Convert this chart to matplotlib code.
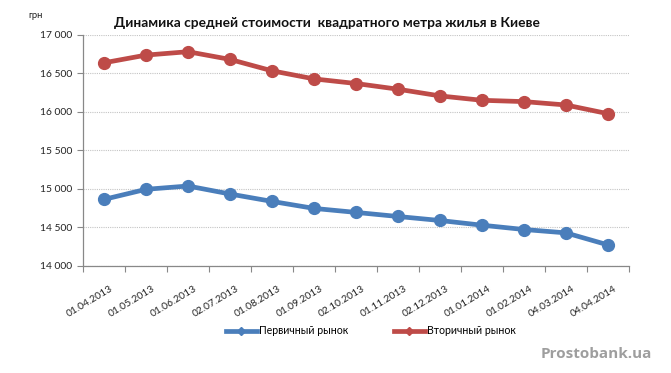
import matplotlib
matplotlib.use("Agg")
import matplotlib.pyplot as plt
from matplotlib.lines import Line2D

dates = ["01.04.2013", "01.05.2013", "01.06.2013", "02.07.2013", "01.08.2013",
         "01.09.2013", "02.10.2013", "01.11.2013", "02.12.2013", "01.01.2014",
         "01.02.2014", "04.03.2014", "04.04.2014"]
primary = [14865, 14996, 15039, 14935, 14839, 14748, 14696, 14643, 14591, 14530, 14474, 14430, 14274]
secondary = [16639, 16739, 16783, 16683, 16535, 16430, 16370, 16296, 16209, 16152, 16135, 16091, 15978]
yticks = [14000, 14500, 15000, 15500, 16000, 16500, 17000]
ytick_labels = ["14 000", "14 500", "15 000", "15 500", "16 000", "16 500", "17 000"]
series_names = ["Первичный рынок", "Вторичный рынок"]

plt.rcParams['font.family'] = ['Lato', 'DejaVu Sans']

W, H = 671, 373
fig = plt.figure(figsize=(W / 100, H / 100), dpi=100)
left, right, top, bottom = 83, 629, 35, 266
ax = fig.add_axes([left / W, 1 - bottom / H, (right - left) / W, (bottom - top) / H])

blue = "#4A7EBB"
red = "#BE4B48"
x = list(range(len(dates)))
ax.plot(x, primary, color=blue, lw=3.4, marker='o', ms=8.5, solid_capstyle='round', zorder=3)
ax.plot(x, secondary, color=red, lw=3.4, marker='o', ms=8.5, solid_capstyle='round', zorder=3)

ax.set_xlim(-0.5, len(dates) - 0.5)
ax.set_ylim(14000, 17000)
ax.set_yticks(yticks)
ax.set_yticklabels(ytick_labels, fontsize=7.4, color="#222222")
ax.yaxis.grid(True, linestyle=(0, (1, 1)), color="#C4C4C4", lw=0.8)
ax.set_axisbelow(True)

ax.set_xticks([i - 0.5 for i in range(len(dates) + 1)])
ax.set_xticklabels([])
ax.tick_params(axis='x', length=4, color="#888888", width=0.8)
ax.tick_params(axis='y', length=4, color="#888888", width=0.8, pad=4)
for i, d in enumerate(dates):
    ax.annotate(d, xy=(i, 14000), xycoords='data', xytext=(4, -13), textcoords='offset points',
                ha='right', va='top', rotation=31, rotation_mode='anchor',
                fontsize=7.4, color="#222222")

for s in ['top', 'right']:
    ax.spines[s].set_visible(False)
for s in ['left', 'bottom']:
    ax.spines[s].set_color("#888888")
    ax.spines[s].set_linewidth(0.9)

fig.text(327 / W, 1 - 23 / H, "Динамика средней стоимости  квадратного метра жилья в Киеве",
         ha='center', va='center', fontsize=9.9, fontweight='bold', color="#111111")
fig.text(28 / W, 1 - 16 / H, "грн", ha='left', va='center', fontsize=6.8, color="#222222")

colors = [blue, red]
leg_x = [226, 394]
for name, c, lx in zip(series_names, colors, leg_x):
    h = Line2D([], [], color=c, lw=3.4, marker='D', ms=4)
    leg = fig.legend([h], [name], loc='center left', bbox_to_anchor=(lx / W, 1 - 331 / H),
                     frameon=False, fontsize=7.6, handlelength=2.9, handletextpad=0.2,
                     borderpad=0, borderaxespad=0)

fig.text(652 / W, 1 - 354 / H, "Prostobank.ua", ha='right', va='center', fontsize=11,
         fontweight='bold', color="#9E9E9E", family=['Open Sans', 'DejaVu Sans'])

fig.savefig("out.png", dpi=100, facecolor="white")
